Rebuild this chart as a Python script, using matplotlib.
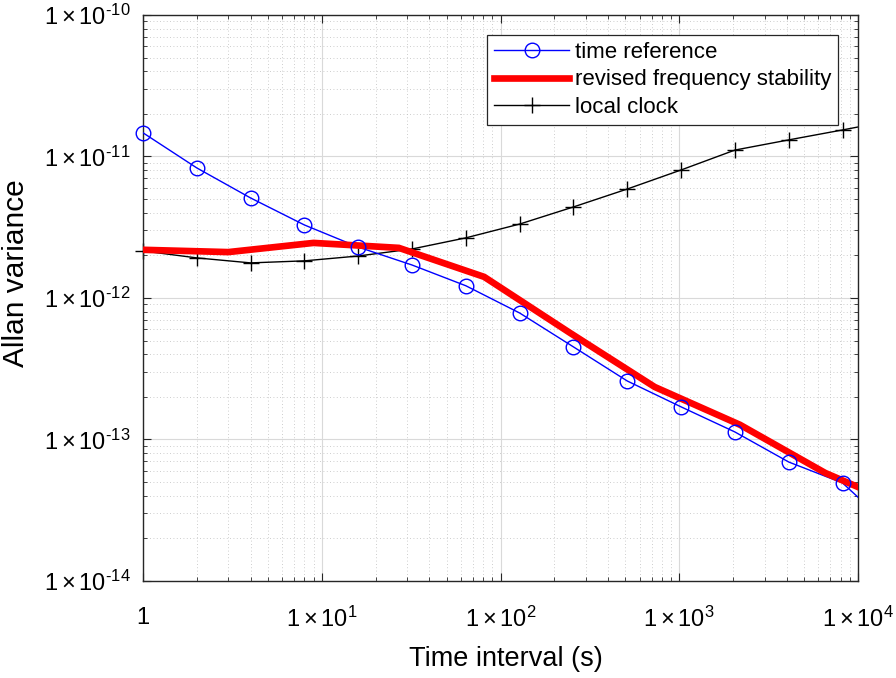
import numpy as np
import matplotlib
matplotlib.use('Agg')
import matplotlib.pyplot as plt
from matplotlib.lines import Line2D
from matplotlib.ticker import FixedLocator, LogLocator, NullFormatter

plt.rcParams['font.family'] = ['Liberation Sans', 'DejaVu Sans']
plt.rcParams['mathtext.fontset'] = 'custom'
plt.rcParams['mathtext.rm'] = 'Liberation Sans'
plt.rcParams['mathtext.it'] = 'Liberation Sans:italic'

# time reference, sampled at powers of 2 (last point lies beyond the axis and gets clipped)
tau_ref = [1, 2, 4, 8, 16, 32, 64, 128, 256, 512, 1024, 2048, 4096, 8192, 16384]
adev_ref = [1.47e-11, 8.3e-12, 5.09e-12, 3.28e-12, 2.29e-12, 1.71e-12, 1.22e-12,
            7.83e-13, 4.51e-13, 2.59e-13, 1.70e-13, 1.13e-13, 6.93e-14, 4.93e-14, 2.2e-14]

# revised frequency stability, sampled at powers of 3
tau_rev = [1, 3, 9, 27, 81, 243, 729, 2187, 6561, 19683]
adev_rev = [2.19e-12, 2.11e-12, 2.45e-12, 2.26e-12, 1.41e-12, 5.7e-13, 2.35e-13,
            1.27e-13, 5.8e-14, 3.19e-14]

# local clock
tau_loc = [1, 2, 4, 8, 16, 32, 64, 128, 256, 512, 1024, 2048, 4096, 8192, 16384]
adev_loc = [2.15e-12, 1.92e-12, 1.77e-12, 1.83e-12, 1.98e-12, 2.22e-12, 2.66e-12,
            3.33e-12, 4.40e-12, 5.89e-12, 8.03e-12, 1.11e-11, 1.31e-11, 1.54e-11, 1.82e-11]

xticks = [1, 10, 100, 1000, 10000]
xticklabels = ['1', r'$1\times10^{1}$', r'$1\times10^{2}$', r'$1\times10^{3}$', r'$1\times10^{4}$']
yticks = [1e-14, 1e-13, 1e-12, 1e-11, 1e-10]
yticklabels = [r'$1\times10^{\text{-}14}$', r'$1\times10^{\text{-}13}$', r'$1\times10^{\text{-}12}$',
               r'$1\times10^{\text{-}11}$', r'$1\times10^{\text{-}10}$']

fig = plt.figure(figsize=(8.96, 6.78), dpi=100)
ax = fig.add_axes([0.1596, 0.1431, 0.798, 0.8348])
ax.set_xscale('log')
ax.set_yscale('log')
ax.set_xlim(1, 1e4)
ax.set_ylim(1e-14, 1e-10)

blue = '#0000ff'
n_in = sum(1 for t in tau_ref if t <= 1e4)

# lines (clipped at the axes)
ax.plot(tau_ref, adev_ref, color=blue, lw=1.0, zorder=3)
ax.plot(tau_rev, adev_rev, color='#ff0000', lw=4.8, zorder=4, solid_joinstyle='miter')
ax.plot(tau_loc, adev_loc, color='black', lw=1.0, zorder=2)

# markers (not clipped, like MATLAB)
ax.plot(tau_ref[:n_in], adev_ref[:n_in], ls='none', marker='o', ms=10.5, mfc='none',
        mec=blue, mew=1.0, clip_on=False, zorder=5)
n_loc = sum(1 for t in tau_loc if t <= 1e4)
ax.plot(tau_loc[:n_loc], adev_loc[:n_loc], ls='none', marker='+', ms=11, mec='black',
        mew=1.0, clip_on=False, zorder=2)

ax.xaxis.set_major_locator(FixedLocator(xticks))
ax.set_xticklabels(xticklabels)
ax.yaxis.set_major_locator(FixedLocator(yticks))
ax.set_yticklabels(yticklabels)
ax.xaxis.set_minor_locator(LogLocator(base=10, subs=np.arange(2, 10), numticks=20))
ax.yaxis.set_minor_locator(LogLocator(base=10, subs=np.arange(2, 10), numticks=20))
ax.xaxis.set_minor_formatter(NullFormatter())
ax.yaxis.set_minor_formatter(NullFormatter())

ax.tick_params(which='both', direction='in', top=True, right=True, colors='#262626',
               labelcolor='black', labelsize=17)
ax.tick_params(which='major', length=6, width=0.8)
ax.tick_params(which='minor', length=3, width=0.6)
ax.tick_params(axis='x', which='major', pad=18.5)
ax.tick_params(axis='y', which='major', pad=9)

ax.grid(which='major', color='#d9d9d9', lw=0.8, ls='-', zorder=0)
ax.grid(which='minor', color='#bdbdbd', lw=0.6, ls=(0, (1, 3)), zorder=0)
ax.set_axisbelow(True)
for s in ax.spines.values():
    s.set_color('#262626')
    s.set_linewidth(1.0)

ax.set_xlabel('Time interval (s)', fontsize=19.5)
ax.xaxis.set_label_coords(0.508, -0.115, transform=ax.transAxes)
ax.set_ylabel('Allan variance', fontsize=21.5)
ax.yaxis.set_label_coords(-0.158, 0.544, transform=ax.transAxes)

handles = [
    Line2D([], [], color=blue, lw=1.0, marker='o', ms=10.5, mfc='none', mec=blue),
    Line2D([], [], color='#ff0000', lw=4.8),
    Line2D([], [], color='black', lw=1.0, marker='+', ms=11),
]
leg = ax.legend(handles, ['time reference', 'revised frequency stability', 'local clock'],
                loc='upper right', bbox_to_anchor=(0.972, 0.9647), fontsize=16,
                frameon=True, fancybox=False, framealpha=1, edgecolor='#262626',
                handlelength=3.4, borderpad=0.3, labelspacing=0.3, handletextpad=0.25,
                borderaxespad=0)
leg.get_frame().set_linewidth(0.9)

fig.savefig('out.png', dpi=100)
